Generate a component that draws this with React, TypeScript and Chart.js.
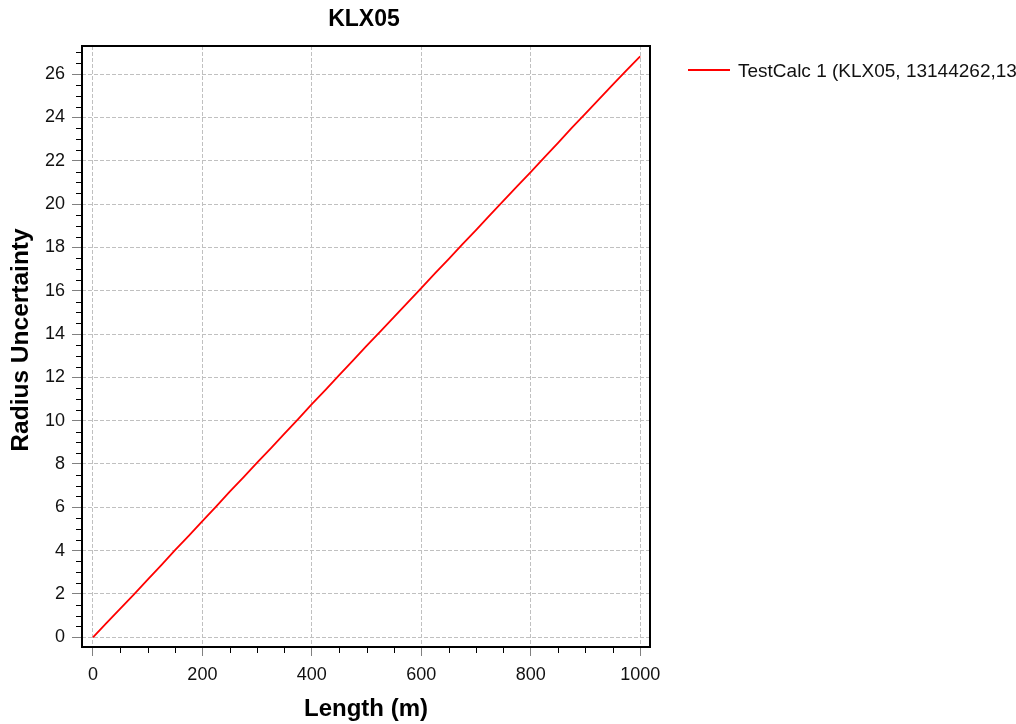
import React, { useEffect, useRef } from "react";
import { Chart, registerables } from "chart.js";

Chart.register(...registerables);

const TITLE = "KLX05";
const X_TITLE = "Length (m)";
const Y_TITLE = "Radius Uncertainty";
const SERIES_LABEL = "TestCalc 1 (KLX05, 13144262,13";

const LENGTHS = [
  0, 25, 50, 75, 100, 125, 150, 175, 200, 225, 250, 275, 300, 325, 350, 375, 400, 425, 450, 475, 500,
  525, 550, 575, 600, 625, 650, 675, 700, 725, 750, 775, 800, 825, 850, 875, 900, 925, 950, 975, 1000,
];
const RADIUS = [
  0, 0.66, 1.32, 1.98, 2.66, 3.33, 4.02, 4.68, 5.36, 6.03, 6.72, 7.38, 8.06, 8.72, 9.4, 10.07, 10.76,
  11.42, 12.1, 12.77, 13.45, 14.11, 14.78, 15.45, 16.12, 16.8, 17.46, 18.14, 18.8, 19.48, 20.15, 20.82,
  21.48, 22.16, 22.83, 23.52, 24.18, 24.85, 25.52, 26.18, 26.82,
];

const X_TICKS = [0, 200, 400, 600, 800, 1000];
const Y_TICKS = [0, 2, 4, 6, 8, 10, 12, 14, 16, 18, 20, 22, 24, 26];
const X_MINOR_STEP = 50;
const Y_MINOR_STEP = 0.5;

const FONT = "'Liberation Sans', Arial, sans-serif";

const overlayPlugin = {
  id: "overlay",
  afterDraw(chart: any) {
    const ctx = chart.ctx;
    const { left, right, top, bottom } = chart.chartArea;
    const xs = chart.scales.x;
    const ys = chart.scales.y;
    ctx.save();
    // minor ticks
    ctx.strokeStyle = "#000";
    ctx.lineWidth = 1;
    ctx.beginPath();
    for (let v = Math.ceil(ys.min / Y_MINOR_STEP) * Y_MINOR_STEP; v <= ys.max; v += Y_MINOR_STEP) {
      if (Y_TICKS.includes(Math.round(v * 100) / 100)) continue;
      const p = Math.round(ys.getPixelForValue(v)) + 0.5;
      ctx.moveTo(left - 6, p);
      ctx.lineTo(left, p);
    }
    for (let v = Math.ceil(xs.min / X_MINOR_STEP) * X_MINOR_STEP; v <= xs.max; v += X_MINOR_STEP) {
      if (X_TICKS.includes(v)) continue;
      const p = Math.round(xs.getPixelForValue(v)) + 0.5;
      ctx.moveTo(p, bottom);
      ctx.lineTo(p, bottom + 6);
    }
    ctx.stroke();
    // frame
    ctx.lineWidth = 2;
    ctx.strokeStyle = "#000";
    ctx.strokeRect(left, top, right - left, bottom - top);
    // title
    ctx.fillStyle = "#000";
    ctx.textAlign = "center";
    ctx.textBaseline = "middle";
    ctx.font = `bold 23px ${FONT}`;
    ctx.fillText(TITLE, (left + right) / 2 - 2, 20);
    ctx.font = `bold 24px ${FONT}`;
    ctx.fillText(X_TITLE, (left + right) / 2, 709);
    ctx.save();
    ctx.translate(21, 340);
    ctx.rotate(-Math.PI / 2);
    ctx.font = `bold 24.5px ${FONT}`;
    ctx.fillText(Y_TITLE, 0, 0);
    ctx.restore();
    // legend
    ctx.strokeStyle = "#ff0000";
    ctx.lineWidth = 2;
    ctx.beginPath();
    ctx.moveTo(688, 70);
    ctx.lineTo(730, 70);
    ctx.stroke();
    ctx.fillStyle = "#111";
    ctx.textAlign = "left";
    ctx.font = `19px ${FONT}`;
    ctx.fillText(SERIES_LABEL, 738, 72);
    ctx.restore();
  },
};

export default function App() {
  const ref = useRef<HTMLCanvasElement | null>(null);
  useEffect(() => {
    if (!ref.current) return;
    const chart = new Chart(ref.current, {
      type: "line",
      data: {
        datasets: [
          {
            label: SERIES_LABEL,
            data: LENGTHS.map((x, i) => ({ x, y: RADIUS[i] })),
            borderColor: "#ff0000",
            borderWidth: 1.8,
            pointRadius: 0,
            fill: false,
            tension: 0,
          },
        ],
      },
      options: {
        responsive: false,
        animation: false,
        devicePixelRatio: 1,
        layout: { padding: { top: 46, left: 0, right: 366, bottom: 0 } },
        plugins: { legend: { display: false }, title: { display: false }, tooltip: { enabled: false } },
        scales: {
          x: {
            type: "linear",
            min: -20,
            max: 1018,
            afterBuildTicks: (s: any) => {
              s.ticks = X_TICKS.map((v) => ({ value: v }));
            },
            afterFit: (s: any) => {
              s.height = 77;
            },
            grid: {
              color: "#c0c0c0",
              lineWidth: 1,
              drawTicks: true,
              tickLength: 9,
              tickColor: "#808080",
              tickWidth: 1,
              tickBorderDash: [],
            },
            border: { display: false, dash: [4, 2] },
            ticks: {
              color: "#111",
              font: { family: FONT, size: 18 },
              padding: 8,
              maxRotation: 0,
              callback: (v: any) => String(v),
            },
          },
          y: {
            type: "linear",
            min: -0.45,
            max: 27.3,
            afterBuildTicks: (s: any) => {
              s.ticks = Y_TICKS.map((v) => ({ value: v }));
            },
            afterFit: (s: any) => {
              s.width = 82;
            },
            grid: {
              color: "#c0c0c0",
              lineWidth: 1,
              drawTicks: true,
              tickLength: 10,
              tickColor: "#808080",
              tickWidth: 1,
              tickBorderDash: [],
            },
            border: { display: false, dash: [4, 2] },
            ticks: {
              color: "#111",
              font: { family: FONT, size: 18 },
              padding: 7,
              callback: (v: any) => String(v),
            },
          },
        },
      },
      plugins: [overlayPlugin],
    });
    return () => chart.destroy();
  }, []);
  return (
    <div style={{ position: "fixed", left: 0, top: 0, width: 1016, height: 724, background: "#fff" }}>
      <canvas ref={ref} width={1016} height={724} style={{ display: "block" }} />
    </div>
  );
}
